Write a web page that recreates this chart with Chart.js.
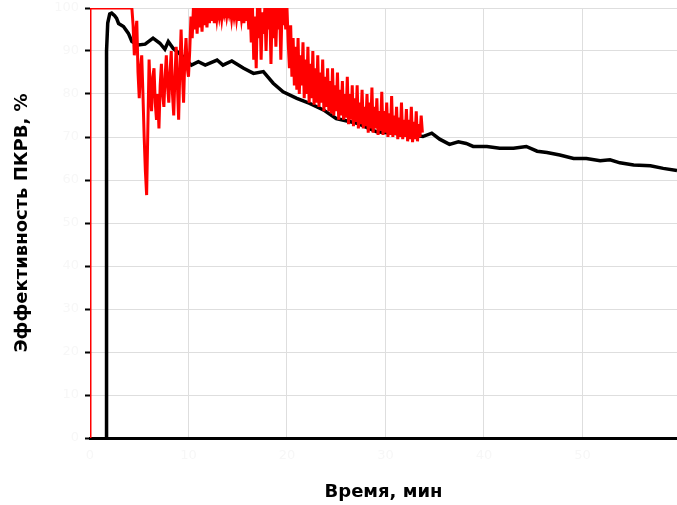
<!DOCTYPE html>
<html lang="ru">
<head>
<meta charset="utf-8">
<title>Эффективность ПКРВ</title>
<script src="https://cdn.jsdelivr.net/npm/chart.js@4.4.1/dist/chart.umd.min.js"></script>
<style>
    body { margin: 0; background: #ffffff; }
    #chart { display: block; }
</style>
</head>
<body>
<canvas id="chart" width="677" height="505"></canvas>
<script>
// ============================================
// DATA
// ============================================
const xTickValues = [0, 10, 20, 30, 40, 50];
const xMax = 59.6;
const yTickStep = 10;

// black curve: time (min) / efficiency (%)
const blackTime = [1.65, 1.68, 1.8, 2.0, 2.2, 2.5, 2.7, 2.9, 3.4, 3.9, 4.25, 4.9, 5.6, 6.4, 7.1, 7.6, 7.95, 8.45,
    9.3, 10.3, 11.0, 11.7, 12.9, 13.5, 14.4, 15.6, 16.6, 17.6, 18.6, 19.6, 21.0, 22.3, 23.7, 25.0, 27.1, 29.1,
    32.5, 33.8, 34.7, 35.5, 36.5, 37.4, 38.2, 38.9, 40.3, 41.6, 43.0, 44.3, 45.4, 46.4, 47.7, 49.1, 50.4,
    51.8, 52.8, 53.8, 55.2, 56.9, 58.2, 59.6];
const blackEff = [0, 90, 96.5, 98.6, 98.8, 98.2, 97.6, 96.4, 95.7, 94.1, 92.2, 91.4, 91.6, 93.0, 91.8, 90.4, 92.2, 90.6,
    89.0, 86.7, 87.5, 86.7, 87.9, 86.7, 87.7, 86.0, 84.8, 85.2, 82.5, 80.5, 79.0, 77.8, 76.3, 74.3, 73.2, 71.2,
    70.5, 70.1, 70.9, 69.5, 68.3, 68.9, 68.5, 67.8, 67.8, 67.4, 67.4, 67.8, 66.7, 66.4, 65.8, 65.0, 65.0,
    64.5, 64.7, 64.0, 63.5, 63.3, 62.7, 62.2];

// red curve: start of the trace, then samples every redStep minutes from redStart
const redHeadTime = [0, 0];
const redHeadEff = [0, 100];
const redStart = 4.25;
const redStep = 0.125;
const redEff = [
    // 4.25 - 10.0
    100, 96, 89, 94, 97, 85, 79, 86, 89, 80, 70, 62, 56.5, 72, 88, 80, 76, 84, 86, 78, 74, 80, 72, 82,
    87, 80, 77, 84, 89, 82, 78, 85, 90, 80, 75, 84, 91, 82, 74, 86, 95, 85, 78, 88, 93, 86, 84,
    // 10.125 - 20.0
    90, 98, 93, 100, 95, 100, 94,
    100, 95.5, 100, 94.5, 100, 96, 100, 95.5,
    100, 96.5, 100, 97, 100, 96.5, 100, 97.5,
    100, 98, 100, 97.5, 100, 98.5, 100, 98,
    100, 98.5, 100, 97.5, 100, 98, 100, 97.5,
    100, 97, 100, 97.5, 100, 96.5, 100, 97,
    100, 95, 100, 92, 100, 88, 98, 86,
    100, 93, 100, 88, 99, 94, 100, 90,
    100, 95, 100, 87, 100, 93, 100, 91,
    100, 95, 100, 88, 100, 96, 100, 95,
    100,
    // 20.125 - 33.75
    92, 86, 96, 84, 93, 82, 91,
    81, 93, 80, 89, 82, 92, 79, 88,
    80, 91, 78, 87, 79, 90, 77.5, 86,
    78, 89, 77, 85, 78, 88, 76, 84,
    77, 86, 76, 83, 75.5, 86, 75, 82,
    76, 85, 74, 81, 75, 83, 74, 80,
    74.5, 84, 73, 80, 74, 82, 72.5, 79,
    73.5, 82, 72, 78, 73, 81, 72, 77,
    72.5, 80, 71, 78, 72, 81.5, 71, 77,
    72, 79, 70.5, 76, 71.5, 80.5, 70.5, 76,
    71, 78, 70, 75.5, 70.5, 79.5, 70, 75,
    70.5, 77, 69.5, 74.5, 70, 78, 69.5, 74,
    70, 76.5, 69, 74, 69.5, 77, 68.8, 73.5,
    69.5, 76, 69, 73, 70, 75, 71
];

// ============================================
// BUILD POINTS
// ============================================
const blackPoints = blackTime.map((t, i) => ({ x: t, y: blackEff[i] }));
const redPoints = redHeadTime.map((t, i) => ({ x: t, y: redHeadEff[i] }));
redEff.forEach((v, i) => {
    redPoints.push({ x: redStart + i * redStep, y: v });
});

const ctx = document.getElementById('chart').getContext('2d');
const chart = new Chart(ctx, {
    type: 'line',
    data: {
        datasets: [
            {
                label: 'ПКРВ 2',
                data: redPoints,
                borderColor: '#ff0000',
                borderWidth: 3,
                pointRadius: 0,
                tension: 0
            },
            {
                label: 'ПКРВ 1',
                data: blackPoints,
                borderColor: '#000000',
                borderWidth: 3.5,
                pointRadius: 0,
                tension: 0
            }
        ]
    },
    options: {
        responsive: false,
        animation: false,
        layout: { padding: { top: 8, right: 0, left: 0, bottom: 0 } },
        plugins: {
            legend: { display: false },
            tooltip: { enabled: false }
        },
        scales: {
            x: {
                type: 'linear',
                min: 0,
                max: xMax,
                afterBuildTicks: scale => {
                    scale.ticks = xTickValues.map(v => ({ value: v }));
                },
                afterFit: scale => {
                    scale.height = 67;
                    scale.paddingLeft = 0;
                    scale.paddingRight = 0;
                },
                grid: { color: '#dedede', lineWidth: 1, drawTicks: false },
                border: { color: '#000000', width: 3 },
                ticks: {
                    color: '#f7f7f7',
                    padding: 10,
                    font: { family: 'DejaVu Sans', size: 13 }
                },
                title: {
                    display: true,
                    text: 'Время, мин',
                    color: '#000000',
                    padding: { top: 0, bottom: 2 },
                    font: { family: 'DejaVu Sans', size: 18, weight: 'bold' }
                }
            },
            y: {
                min: 0,
                max: 100,
                afterFit: scale => {
                    scale.width = 90;
                    scale.paddingTop = 0;
                    scale.paddingBottom = 0;
                },
                grid: { color: '#dedede', lineWidth: 1, tickColor: '#000000', tickLength: 5, tickWidth: 2 },
                border: { color: '#000000', width: 1 },
                ticks: {
                    stepSize: yTickStep,
                    color: '#f7f7f7',
                    padding: 6,
                    font: { family: 'DejaVu Sans', size: 13 }
                },
                title: {
                    display: true,
                    text: 'Эффективность ПКРВ, %',
                    color: '#000000',
                    padding: { top: 12, bottom: 0 },
                    font: { family: 'DejaVu Sans', size: 18, weight: 'bold' }
                }
            }
        }
    }
});
</script>
</body>
</html>
